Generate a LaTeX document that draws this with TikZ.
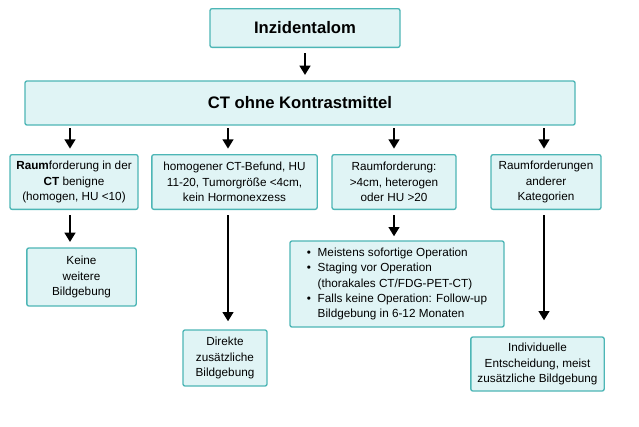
\documentclass[tikz,border=0pt]{standalone}
\usepackage{fontspec}
\setmainfont{Liberation Sans}
\usetikzlibrary{arrows.meta}
\definecolor{bfill}{HTML}{E0F4F5}
\definecolor{bdraw}{HTML}{4DB6B6}
\begin{document}
\begin{tikzpicture}[x=0.75pt,y=-0.75pt,
 box/.style={draw=bdraw,fill=bfill,line width=1pt,rounded corners=1.5pt,align=center,font=\fontsize{8.8}{11.5}\selectfont,inner sep=0pt},
 arr/.style={-{Triangle[length=7pt,width=8pt]},line width=1.7pt}]
\useasboundingbox (0,0) rectangle (639,426);
\node[box,minimum width=142.5pt,minimum height=29pt,font=\fontsize{12.5}{14}\selectfont\bfseries] (inz) at (305,28) {Inzidentalom};
\node[box,minimum width=412.5pt,minimum height=33pt,font=\fontsize{12.5}{14}\selectfont\bfseries] (ct) at (300,103) {CT ohne Kontrastmittel};
\node[box,minimum width=96pt,minimum height=41pt] (b1) at (74,182) {\textbf{Raum}forderung in der\\\textbf{CT} benigne\\(homogen, HU <10)};
\node[box,minimum width=124pt,minimum height=41pt] (b2) at (234.5,182) {homogener CT-Befund, HU\\11-20, Tumorgröße <4cm,\\kein Hormonexzess};
\node[box,minimum width=93pt,minimum height=41pt] (b3) at (394,182) {Raumforderung:\\>4cm, heterogen\\oder HU >20};
\node[box,minimum width=82.5pt,minimum height=41pt] (b4) at (546,182) {Raumforderungen\\anderer\\Kategorien};
\node[box,minimum width=82pt,minimum height=43.5pt] (k) at (81.5,277) {Keine\\weitere\\Bildgebung};
\node[box,minimum width=63pt,minimum height=42pt] (d) at (225,358) {Direkte\\zusätzliche\\Bildgebung};
\node[box,minimum width=160.5pt,minimum height=64.5pt,align=left] (bl) at (397,284) {%
\begin{tabular}{@{}l@{\hspace{5pt}}l@{}}
\textbullet & Meistens sofortige Operation\\
\textbullet & Staging vor Operation\\
 & (thorakales CT/FDG-PET-CT)\\
\textbullet & Falls keine Operation: Follow-up\\
 & Bildgebung in 6-12 Monaten
\end{tabular}};
\node[box,minimum width=100pt,minimum height=40.5pt] (ind) at (537.5,364) {Individuelle\\Entscheidung, meist\\zusätzliche Bildgebung};
\coordinate (c0) at (305,0);
\coordinate (c1) at (70,0);\coordinate (c2) at (228,0);\coordinate (c3) at (394,0);\coordinate (c4) at (544,0);
\draw[arr] ([yshift=-4pt]inz.south -| c0) -- ([yshift=4pt]ct.north -| c0);
\draw[arr] ([yshift=-2pt]ct.south -| c1) -- ([yshift=4pt]b1.north -| c1);
\draw[arr] ([yshift=-2pt]ct.south -| c2) -- ([yshift=4pt]b2.north -| c2);
\draw[arr] ([yshift=-2pt]ct.south -| c3) -- ([yshift=4pt]b3.north -| c3);
\draw[arr] ([yshift=-2pt]ct.south -| c4) -- ([yshift=4pt]b4.north -| c4);
\draw[arr] ([yshift=-4pt]b1.south -| c1) -- ([yshift=4pt]k.north -| c1);
\draw[arr] ([yshift=-4pt]b2.south -| c2) -- ([yshift=6pt]d.north -| c2);
\draw[arr] ([yshift=-4pt]b3.south -| c3) -- ([yshift=3pt]bl.north -| c3);
\draw[arr] ([yshift=-4pt]b4.south -| c4) -- ([yshift=12pt]ind.north -| c4);
\end{tikzpicture}
\end{document}
